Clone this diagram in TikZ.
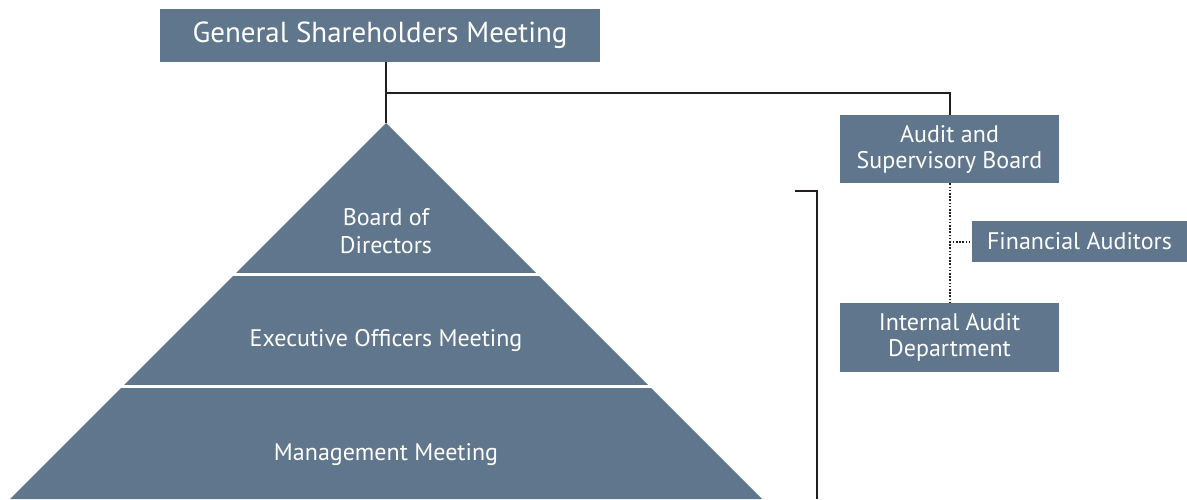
\documentclass[tikz,border=0pt]{standalone}
\usepackage{fontspec}
\setmainfont{PT Sans}
\definecolor{slate}{HTML}{60768C}
\definecolor{ink}{HTML}{231F20}
\tikzset{
  box/.style={fill=slate,text=white,inner sep=0pt,align=center,
    font=\fontsize{12}{13}\selectfont},
  tier/.style={text=white,align=center,font=\fontsize{12}{14}\selectfont},
  link/.style={draw=ink,line width=1pt},
  dots/.style={draw=ink,line width=1pt,dash pattern=on 0.8pt off 0.8pt},
}
\begin{document}
\begin{tikzpicture}[x=0.5pt,y=-0.5pt]
  \useasboundingbox (0,0) rectangle (1187,499);
  % pyramid
  \coordinate (apex) at (386,123);
  \fill [slate] (apex) -- (10,499) -- (762,499) -- cycle;
  \draw [white,line width=1.5pt] (100,274) -- (680,274);
  \draw [white,line width=1.5pt] (0,386.5) -- (780,386.5);
  \node [tier] (bod)  at (386,231) {Board of\\Directors};
  \node [tier] (eom)  at (386,340) {Executive Officers Meeting};
  \node [tier] (mgmt) at (386,455) {Management Meeting};
  % boxes
  \node [box,minimum width=220pt,minimum height=26.5pt,
    font=\fontsize{14.5}{16}\selectfont] (gsm) at (380,35.5) {General Shareholders Meeting};
  \node [box,minimum width=109.5pt,minimum height=34pt] (asb) at (949.5,149) {Audit and\\Supervisory Board};
  \node [box,minimum width=107.5pt,minimum height=20.5pt] (fa) at (1079.5,241.5) {Financial Auditors};
  \node [box,minimum width=109.5pt,minimum height=34.5pt] (iad) at (949.5,337.5) {Internal Audit\\Department};
  % connectors
  \coordinate (split) at (386,93);
  \draw [link] (gsm.south -| apex) -- (apex);
  \draw [link] (split) -| (asb.north);
  \draw [dots] (asb.south) -- (iad.north);
  \draw [dots] (asb.south |- fa.west) -- (fa.west);
  % bracket
  \coordinate (brtop) at (795,191);
  \coordinate (brend) at (817,499);
  \draw [link,line width=0.8pt] (brtop) -| (brend);
\end{tikzpicture}
\end{document}
